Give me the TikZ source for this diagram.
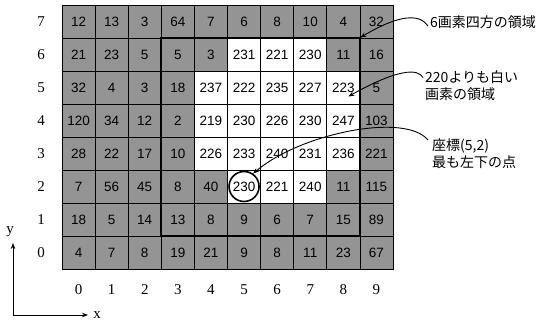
\documentclass[tikz,border=0pt]{standalone}
\usepackage{fontspec}
\setmainfont{Liberation Serif}
\newfontfamily\numfont{Liberation Sans}
\newfontfamily\jpfont{Noto Sans CJK JP}
\usetikzlibrary{arrows.meta}
\colorlet{cg}{black!42}
\colorlet{cw}{white}
\tikzset{
  pixcell/.style={draw=black,line width=0.8pt,minimum width=33.1pt,minimum height=33pt,inner sep=0pt,
    font=\numfont\fontsize{13.5}{14}\selectfont},
  axlab/.style={font=\fontsize{15}{16}\selectfont,inner sep=0pt},
  jplab/.style={font=\jpfont\fontsize{14}{17}\selectfont,align=left,inner sep=0pt,anchor=west},
  pointer/.style={line width=0.9pt,-{Stealth[length=6pt,width=4.5pt]}},
  regionline/.style={line width=2pt},
}
\newcommand\pixrow[2]{%
  \foreach \v/\t [count=\c from 0] in {#2} {
    \node[pixcell,fill=c\t] (c\c-#1) at ({62+33.1*\c+16.55},{269-33*#1-16.5}) {\v};
  }
  \node[axlab] (ry#1) at (41,{269-33*#1-16.5}) {#1};
}
\begin{document}
\begin{tikzpicture}[x=1pt,y=-1pt]
\useasboundingbox (0,0) rectangle (549,324);
\pixrow{7}{12/g,13/g,3/g,64/g,7/g,6/g,8/g,10/g,4/g,32/g}
\pixrow{6}{21/g,23/g,5/g,5/g,3/g,231/w,221/w,230/w,11/g,16/g}
\pixrow{5}{32/g,4/g,3/g,18/g,237/w,222/w,235/w,227/w,223/w,5/g}
\pixrow{4}{120/g,34/g,12/g,2/g,219/w,230/w,226/w,230/w,247/w,103/g}
\pixrow{3}{28/g,22/g,17/g,10/g,226/w,233/w,240/w,231/w,236/w,221/g}
\pixrow{2}{7/g,56/g,45/g,8/g,40/g,230/w,221/w,240/w,11/g,115/g}
\pixrow{1}{18/g,5/g,14/g,13/g,8/g,9/g,6/g,7/g,15/g,89/g}
\pixrow{0}{4/g,7/g,8/g,19/g,21/g,9/g,8/g,11/g,23/g,67/g}
\foreach \c in {0,...,9} {
  \node[axlab] (cx\c) at ({62+33.1*\c+16.55},290) {\c};
}
% 6x6 region
\draw[regionline] (c3-6.north west) rectangle (c8-1.south east);
% circle
\node[circle,draw,line width=1.6pt,minimum size=30pt,inner sep=0pt] (circ) at (c5-2) {};
% axes
\coordinate (orig) at (13,315);
\coordinate (ytip) at (13,243);
\coordinate (xtip) at (88,315);
\draw[line width=0.9pt,-{Stealth[length=6pt,width=4.5pt]}] (orig) -- (ytip);
\draw[line width=0.9pt,-{Stealth[length=6pt,width=4.5pt]}] (orig) -- (xtip);
\node[axlab] (ylab) at (10,232) {y};
\node[axlab] (xlab) at (97,315) {x};
% labels
\node[jplab] (lab1) at (430,22) {6画素四方の領域};
\node[jplab] (lab2) at (425,85.5) {220よりも白い\\画素の領域};
\node[jplab] (lab3) at (432,154) {座標(5,2)\\最も左下の点};
% pointers
\draw[pointer] ([shift={(-2,4)}]lab1.west) .. controls +(-8,-12) and +(40,-24) .. (c8-6.north east);
\draw[pointer] ([shift={(-2,-8)}]lab2.west) .. controls +(-5,-9) and +(50,-28) .. ([shift={(5,9)}]c8-5.center);
\draw[pointer] ([shift={(-4,-14)}]lab3.west) .. controls +(-23,-28) and +(47,-40) .. (circ.55);
\end{tikzpicture}
\end{document}
